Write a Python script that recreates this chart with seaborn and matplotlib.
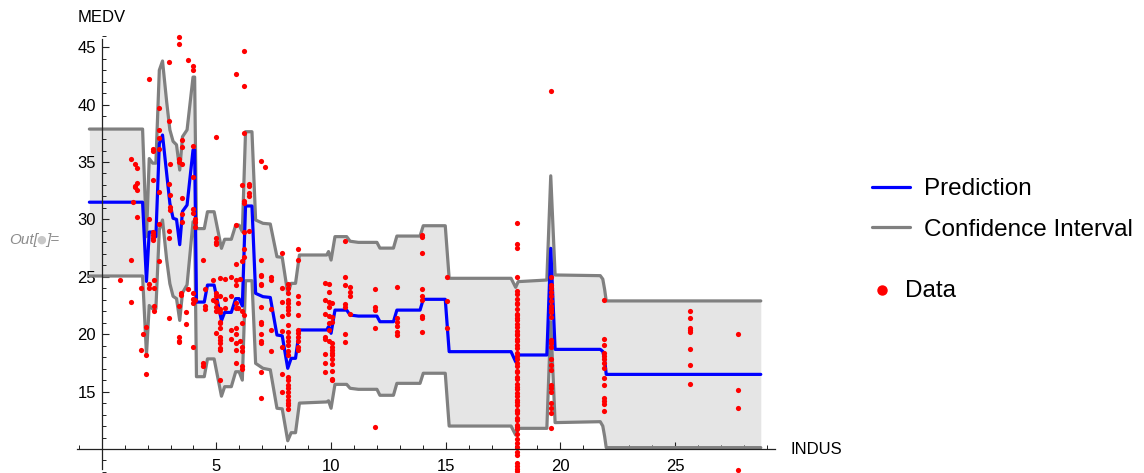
import matplotlib
matplotlib.use("Agg")
import matplotlib.pyplot as plt
from matplotlib.lines import Line2D
from matplotlib.ticker import FixedLocator, MultipleLocator
import seaborn as sns

# Model curve knots: INDUS position, prediction and confidence band
knot_indus = [-0.54, 1.78, 1.95, 2.07, 2.22, 2.36, 2.51, 2.65, 2.83, 2.97,
              3.11, 3.26, 3.40, 3.52, 3.72, 3.98, 4.05, 4.13, 4.47, 4.61,
              4.90, 5.22, 5.36, 5.65, 5.84, 5.99, 6.13, 6.27, 6.55, 6.71,
              7.03, 7.35, 7.64, 7.87, 8.11, 8.26, 8.45, 8.62, 9.81, 9.89,
              10.00, 10.17, 10.68, 10.83, 11.19, 12.00, 12.13, 12.72, 12.87, 13.88,
              14.02, 14.98, 15.15, 17.85, 18.05, 18.16, 19.41, 19.58, 19.77, 21.74,
              21.85, 21.93, 22.00, 28.74]
pred_medv = [31.5, 31.5, 24.6, 28.9, 28.9, 28.5, 36.6, 37.35, 34.0, 31.4,
             30.1, 30.0, 27.8, 30.7, 31.25, 36.05, 36.05, 22.8, 22.8, 24.28,
             24.28, 21.18, 21.9, 21.9, 23.1, 23.1, 22.46, 31.17, 31.17, 23.56,
             23.27, 23.2, 19.93, 19.86, 17.03, 17.9, 17.9, 20.37, 20.37, 20.66,
             20.08, 22.1, 22.1, 21.67, 21.58, 21.58, 21.09, 21.09, 22.1, 22.1,
             23.04, 23.04, 18.48, 18.48, 17.6, 18.19, 18.19, 27.48, 18.68, 18.68,
             18.5, 17.8, 16.5, 16.5]
upper_medv = [37.87, 37.87, 28.5, 35.3, 34.9, 34.9, 43.0, 43.8, 40.25, 37.8,
              36.8, 36.5, 34.3, 37.2, 37.8, 42.4, 42.4, 29.2, 29.2, 30.67,
              30.67, 27.48, 28.27, 28.27, 29.5, 29.5, 28.93, 37.64, 37.64, 29.95,
              29.66, 29.6, 26.75, 26.7, 23.56, 24.43, 24.43, 26.9, 26.9, 27.2,
              26.46, 28.5, 28.5, 28.1, 28.0, 28.0, 27.5, 27.5, 28.55, 28.55,
              29.45, 29.45, 24.87, 24.87, 24.08, 24.58, 24.72, 33.8, 25.16, 25.1,
              24.8, 23.9, 22.9, 22.9]
lower_medv = [25.07, 25.07, 18.2, 22.5, 22.2, 22.2, 29.1, 29.95, 26.5, 24.4,
              23.3, 23.1, 21.2, 23.6, 24.3, 29.8, 29.8, 16.3, 16.3, 17.85,
              17.85, 14.6, 15.43, 15.43, 16.73, 16.73, 16.0, 24.66, 24.66, 17.46,
              17.03, 16.9, 13.55, 13.5, 10.72, 11.42, 11.42, 14.0, 14.1, 14.2,
              13.55, 15.63, 15.63, 15.29, 15.2, 15.2, 14.68, 14.68, 15.72, 15.72,
              16.6, 16.6, 12.0, 12.0, 11.22, 11.8, 11.8, 21.09, 12.3, 12.38,
              12.0, 11.1, 10.12, 10.12]

# Observations, grouped by INDUS value
indus_cols = [0.80, 1.27, 1.36, 1.47, 1.55, 1.72, 1.80, 1.94, 2.07, 2.22,
              2.28, 2.49, 2.93, 2.98, 3.36, 3.44, 3.48, 3.67, 3.78, 4.00,
              4.05, 4.43, 4.50, 4.87, 4.97, 5.15, 5.36, 5.65, 5.84, 5.93,
              6.01, 6.10, 6.22, 6.40, 6.93, 7.10, 7.39, 7.88, 8.13, 8.56,
              9.74, 9.91, 10.03, 10.62, 10.84, 11.93, 12.87, 13.95, 15.04, 18.10,
              19.58, 21.92, 25.66, 27.74]
medv_cols = [
    [24.7],
    [35.3, 26.5, 22.8],
    [31.5],
    [34.8, 32.9, 32.8],
    [34.5, 33.2, 32.6, 30.2],
    [24.0, 18.6],
    [20.0],
    [20.6, 18.2, 16.5],
    [42.2, 30.0, 24.4, 24.0],
    [36.1, 36.0, 33.4, 28.9, 28.6, 28.4, 28.2],
    [24.7, 24.0, 22.5, 22.0],
    [39.7, 37.8, 37.1, 36.1, 32.4, 29.6, 26.4],
    [43.7, 38.6, 33.1, 29.0, 28.4, 21.4],
    [34.8, 32.1, 31.1, 30.8],
    [45.9, 45.3, 35.3, 35.0, 22.5, 19.8, 19.4, 19.3],
    [23.6, 23.4],
    [36.9, 36.3, 34.8, 31.9, 30.5, 29.8],
    [21.9, 20.9],
    [43.9, 23.9],
    [43.4, 43.0, 36.4, 33.7, 30.9, 30.6, 23.6, 23.1, 22.7, 18.9],
    [30.0, 29.8, 29.3, 23.0],
    [26.5, 17.5, 17.2],
    [23.9, 22.5, 22.2],
    [24.7, 23.0],
    [37.2, 28.4, 28.0, 27.9, 23.6, 23.3, 22.8, 22.4, 22.0, 20.1],
    [24.9, 23.3, 22.2, 21.9, 21.1, 21.0, 20.5, 19.8, 19.5, 19.2, 18.8, 18.6, 16.0],
    [24.8, 23.1, 22.3],
    [25.0, 23.3, 20.4, 19.6],
    [42.7, 29.5, 26.1, 24.7, 24.3, 22.7, 22.3, 20.5, 20.0, 19.2, 18.6, 17.5],
    [22.3],
    [24.8, 19.4],
    [33.0, 26.4, 22.0, 21.0, 18.9, 18.5, 17.2, 17.0],
    [44.7, 41.6, 37.5, 31.6, 31.4, 28.9, 27.4, 26.7, 21.7],
    [33.1, 32.9, 32.3, 32.0, 29.0],
    [35.1, 26.5, 25.2, 25.1, 24.4, 24.3, 22.4, 21.1, 20.9, 20.0, 19.4, 19.2, 16.7, 14.4],
    [34.6],
    [25.0, 24.7, 22.2, 20.4, 18.5],
    [27.1, 24.0, 22.8, 21.6, 20.3, 18.9, 16.5, 15.0],
    [24.4, 24.0, 23.6, 23.0, 22.7, 22.4, 22.1, 21.8, 20.8, 20.2, 19.8, 19.4, 19.1,
     18.5, 18.2, 16.3, 16.0, 15.6, 15.3, 15.0, 14.6, 14.3, 14.0, 13.8, 13.5],
    [27.4, 26.5, 23.3, 22.7, 21.7, 20.4, 20.1, 19.8, 19.4, 18.9, 18.6],
    [24.5, 23.0, 21.8, 19.8, 19.6, 18.3, 17.5, 16.7],
    [24.4, 23.7, 22.8, 22.4, 21.6, 21.0, 20.4, 19.4],
    [22.7, 21.5, 21.1, 19.2, 18.9, 18.6, 18.4, 18.2, 17.8, 17.4, 16.8, 16.1, 16.0],
    [28.1, 25.0, 24.3, 22.6, 22.4, 20.0, 19.3],
    [24.1, 23.7, 23.3, 21.8],
    [23.9, 22.4, 22.1, 20.5, 11.9],
    [24.1, 21.4, 21.1, 20.7, 20.2, 19.9],
    [28.6, 28.5, 27.1, 23.9, 23.3, 23.0, 21.6, 21.4, 20.2],
    [25.0, 22.9, 20.5],
    [29.7, 27.9, 27.5, 25.0, 23.8, 23.5, 23.1, 22.7, 22.6, 22.2, 21.8, 21.7, 21.4,
     21.2, 20.9, 20.6, 20.3, 20.0, 19.9, 19.6, 19.4, 19.1, 18.8, 18.4, 18.1, 17.8,
     17.5, 17.2, 16.8, 16.7, 16.3, 16.1, 15.7, 15.4, 15.2, 14.9, 14.6, 14.3, 14.1,
     13.8, 13.4, 13.3, 13.1, 12.7, 12.5, 12.1, 11.9, 11.7, 11.3, 10.9, 10.5, 10.2,
     9.7, 9.5, 8.8, 8.5, 8.3, 8.1],
    [41.2, 25.0, 24.3, 24.0, 23.7, 23.3, 22.9, 22.5, 22.2, 21.9, 21.5, 19.5, 19.2,
     18.9, 17.8, 17.3, 16.9, 15.6, 15.3, 15.0, 14.0, 13.6, 13.1, 11.8],
    [23.0, 19.6, 19.1, 18.4, 18.1, 17.8, 17.5, 17.1, 16.2, 15.6, 14.4, 14.2, 13.9, 13.3],
    [22.0, 21.4, 20.5, 20.4, 20.2, 18.7, 17.3, 15.7],
    [20.0, 15.1, 13.6, 8.2],
]

dot_indus = [x for x, ys in zip(indus_cols, medv_cols) for _ in ys]
dot_medv = [y for ys in medv_cols for y in ys]

sns.set_style("white")
plt.rcParams["font.family"] = ["Liberation Sans", "DejaVu Sans"]
plt.rcParams["text.color"] = "black"

W, H = 1144, 473
fig = plt.figure(figsize=(W / 100, H / 100), dpi=100)
ax = fig.add_axes([77 / W, 0, 698 / W, 443 / H])
ax.set_xlim(-1.08, 29.36)
ax.set_ylim(7.91, 46.5)

band_grey = "#808080"
ax.fill_between(knot_indus, lower_medv, upper_medv, color="#e5e5e5", lw=0, zorder=1)
sns.lineplot(x=knot_indus, y=upper_medv, ax=ax, color=band_grey, lw=2.3,
             estimator=None, sort=False, zorder=2)
sns.lineplot(x=knot_indus, y=lower_medv, ax=ax, color=band_grey, lw=2.3,
             estimator=None, sort=False, zorder=2)
sns.lineplot(x=knot_indus, y=pred_medv, ax=ax, color="#0000ff", lw=2.3,
             estimator=None, sort=False, zorder=3)
sns.scatterplot(x=dot_indus, y=dot_medv, ax=ax, color="#ff0000", s=14,
                linewidth=0, zorder=4)

# Axes crossing at (0, 10), drawn above the shaded band
ax.set_axisbelow(False)
ax.xaxis.set_zorder(1.5)
ax.yaxis.set_zorder(1.5)
for side in ("top", "right"):
    ax.spines[side].set_visible(False)
ax.spines["left"].set_position(("data", 0))
ax.spines["bottom"].set_position(("data", 10))
ax.spines["left"].set_bounds(8.3, 45.75)
for side in ("left", "bottom"):
    ax.spines[side].set_color("#222222")
    ax.spines[side].set_linewidth(0.9)
    ax.spines[side].set_zorder(5)

ax.xaxis.set_major_locator(FixedLocator([5, 10, 15, 20, 25]))
ax.xaxis.set_minor_locator(MultipleLocator(1))
ax.yaxis.set_major_locator(FixedLocator([15, 20, 25, 30, 35, 40, 45]))
ax.yaxis.set_minor_locator(MultipleLocator(1))
ax.tick_params(which="both", bottom=True, left=True, top=False, right=False)
ax.tick_params(which="major", direction="in", length=5.3, width=0.8,
               color="#222222", labelsize=12, labelcolor="black")
ax.tick_params(which="minor", direction="in", length=3.2, width=0.7, color="#222222")
ax.tick_params(axis="x", which="major", pad=7)
ax.tick_params(axis="y", which="major", pad=4.3)
ax.set_xlabel("")
ax.set_ylabel("")
ax.grid(False)

def fx(px):
    return px / W

def fy(py):
    return 1 - py / H

fig.text(fx(78), fy(18), "MEDV", fontsize=12, va="center", ha="left", color="black")
fig.text(fx(790), fy(449), "INDUS", fontsize=12, va="center", ha="left", color="black")

# Cell output marker
fig.text(fx(9), fy(240), "Out[", fontsize=11, style="italic", color="#8c8c8c",
         va="center", ha="left")
fig.text(fx(41.5), fy(240), "\u25cf", fontsize=8, color="#c8c8c8",
         va="center", ha="center", family=["DejaVu Sans"])
fig.text(fx(46), fy(240), "]=", fontsize=11, style="italic", color="#8c8c8c",
         va="center", ha="left")

# Legend
fig.add_artist(Line2D([fx(872), fx(910)], [fy(186.5), fy(186.5)],
                      transform=fig.transFigure, color="#0000ff", lw=2.3))
fig.text(fx(924), fy(195), "Prediction", fontsize=17.5, va="baseline", ha="left",
         color="black")
fig.add_artist(Line2D([fx(872), fx(910)], [fy(227.5), fy(227.5)],
                      transform=fig.transFigure, color=band_grey, lw=2.3))
fig.text(fx(924), fy(235.5), "Confidence Interval", fontsize=17.5,
         va="baseline", ha="left", color="black")
fig.add_artist(Line2D([fx(882)], [fy(290)], transform=fig.transFigure,
                      marker="o", markersize=6.5, color="#ff0000", lw=0))
fig.text(fx(905), fy(297), "Data", fontsize=17.5, va="baseline", ha="left",
         color="black")

fig.savefig("out.png", dpi=100)
